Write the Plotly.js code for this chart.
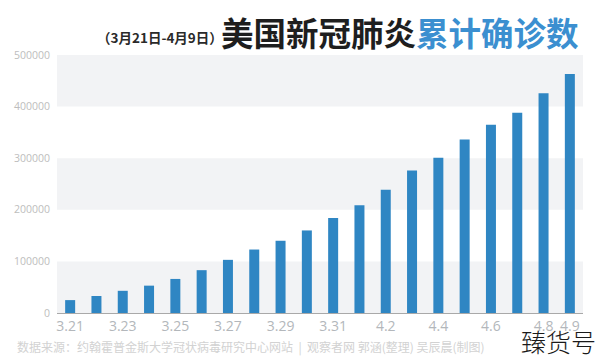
<!DOCTYPE html>
<html>
<head>
<meta charset="utf-8">
<script src="https://cdn.plot.ly/plotly-3.0.1.min.js"></script>
<style>html,body{margin:0;padding:0;background:#fff;}#chart{width:600px;height:360px;}</style>
</head>
<body>
<div id="chart"></div>
<script>
// Data
var dates = ["3.21","3.22","3.23","3.24","3.25","3.26","3.27","3.28","3.29","3.30","3.31",
             "4.1","4.2","4.3","4.4","4.5","4.6","4.7","4.8","4.9"];
var confirmed = [25000,33000,43000,53000,66000,83000,103000,123000,140000,160000,184000,
                 209000,239000,276000,301000,336000,365000,388000,426000,463000];
var xTickLabels = ["3.21","3.23","3.25","3.27","3.29","3.31","4.2","4.4","4.6","4.8","4.9"];
var yTicks = [0,100000,200000,300000,400000,500000];
var bandRanges = [[0,100000],[200000,300000],[400000,500000]];

var titleMain = "美国新冠肺炎";
var titleBlue = "累计确诊数";
var subTitle = "（3月21日-4月9日）";
var sourceText = "数据来源：约翰霍普金斯大学冠状病毒研究中心网站  |  观察者网 郭涵(整理) 吴辰晨(制图)";
var watermark = "臻货号";

var CJK = "'Noto Sans CJK SC', 'Noto Sans', sans-serif";

var shapes = bandRanges.map(function(r){
  return {type:"rect", xref:"paper", yref:"y", x0:0, x1:1, y0:r[0], y1:r[1],
          fillcolor:"#f2f3f5", line:{width:0}, layer:"below"};
});

var trace = {
  type:"bar", x:dates, y:confirmed,
  marker:{color:"#2f86c3"},
  hoverinfo:"x+y"
};

var layout = {
  width:600, height:360,
  margin:{l:57, r:17, t:55, b:47},
  paper_bgcolor:"#ffffff", plot_bgcolor:"rgba(0,0,0,0)",
  bargap:0.62,
  showlegend:false,
  font:{family:CJK},
  xaxis:{
    type:"category", range:[-0.5,19.5],
    tickmode:"array", tickvals:xTickLabels, ticktext:xTickLabels,
    tickfont:{family:"'Open Sans', sans-serif", size:14, color:"#b3b7bb"},
    showgrid:false, zeroline:false,
    showline:true, linecolor:"#a9a9a9", linewidth:1,
    ticks:"", ticklen:0
  },
  yaxis:{
    range:[0,500000], tickmode:"array", tickvals:yTicks,
    ticktext:yTicks.map(String),
    tickfont:{family:"'Open Sans', sans-serif", size:10.5, color:"#bdbdbd"},
    showgrid:false, zeroline:false, showline:false, ticks:"",
    ticklabelstandoff:6
  },
  shapes:shapes,
  annotations:[
    {xref:"paper", yref:"paper", x:(95-57)/526, y:(313-37)/258, xanchor:"left", yanchor:"middle",
     showarrow:false, text:"<b>"+subTitle+"</b>",
     font:{family:CJK, size:13.5, color:"#2a2a2a"}},
    {xref:"paper", yref:"paper", x:(219-57)/526, y:(313-31)/258, xanchor:"left", yanchor:"middle",
     showarrow:false,
     text:"<b>"+titleMain+"<span style='color:#3b8fd0'>"+titleBlue+"</span></b>",
     font:{family:CJK, size:32.5, color:"#1e1e1e"}},
    {xref:"paper", yref:"paper", x:(15-57)/526, y:(313-347)/258, xanchor:"left", yanchor:"middle",
     showarrow:false, text:sourceText,
     font:{family:CJK, size:12, color:"#d2d2d2"}},
    {xref:"paper", yref:"paper", x:(598-57)/526, y:(313-341)/258, xanchor:"right", yanchor:"middle",
     showarrow:false, text:watermark,
     font:{family:CJK, size:25, color:"#1a1a1a", weight:300}}
  ]
};

Plotly.newPlot("chart", [trace], layout, {displayModeBar:false, staticPlot:true});
</script>
</body>
</html>
